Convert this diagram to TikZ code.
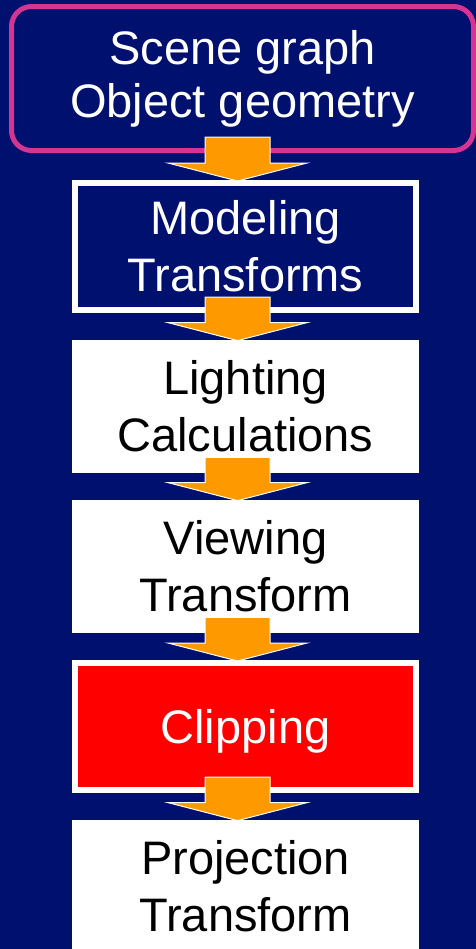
\documentclass[tikz,border=0pt]{standalone}
\usepackage{fontspec}
\setmainfont{Liberation Sans}
\usepackage{tikz}
\usetikzlibrary{calc}

\definecolor{slidenavy}{RGB}{0,16,110}
\definecolor{scenepink}{RGB}{214,52,147}
\definecolor{pipeorange}{RGB}{255,153,0}

\begin{document}
\begin{tikzpicture}[x=0.5pt,y=-0.5pt,
  stage/.style={rectangle,inner sep=0pt,align=center,fill=white,text=black,
    minimum width=173.5pt,minimum height=66.5pt,
    font=\fontsize{23.5pt}{28.5pt}\selectfont},
  framed/.style={draw=white,line width=3pt,minimum width=170.5pt,minimum height=63.5pt},
  pipearrow/.style={fill=pipeorange,draw=white,line width=0.5pt,line join=miter}]

 \useasboundingbox[fill=slidenavy] (0,0) rectangle (476,949);
 \clip (0,0) rectangle (476,949);

 \draw (242.5,78.5) node[stage,fill=slidenavy,text=white,draw=scenepink,line width=2.5pt,
    rounded corners=10pt,minimum width=231pt,minimum height=72pt,
    font=\fontsize{23.5pt}{26.5pt}\selectfont] (scene) {Scene graph\\Object geometry};
  \draw (245.5,246.5) node[stage,framed,fill=slidenavy,text=white] (modeling) {Modeling\\Transforms};
  \draw (245.5,406.5) node[stage] (lighting) {Lighting\\Calculations};
  \draw (245.5,566.5) node[stage] (viewing) {Viewing\\Transform};
  \draw (245.5,726.5) node[stage,framed,fill=red,text=white,text depth=0pt] (clipping) {Clipping};
  \draw (245.5,886.5) node[stage] (projection) {Projection\\Transform};

  \foreach \a/\b in {scene/modeling,modeling/lighting,lighting/viewing,viewing/clipping,clipping/projection}
    \filldraw[pipearrow] ($(\b.north |- \a.south)+(-20.25pt,8pt)$) -- ($(\b.north |- \a.south)+(12.25pt,8pt)$)
      -- ($(\b.north)+(12.25pt,8.5pt)$) -- ($(\b.north)+(30.75pt,8.5pt)$)
      -- ($(\b.north)+(-4pt,-0.5pt)$)
      -- ($(\b.north)+(-38.75pt,8.5pt)$) -- ($(\b.north)+(-20.25pt,8.5pt)$) -- cycle;

\end{tikzpicture}
\end{document}
